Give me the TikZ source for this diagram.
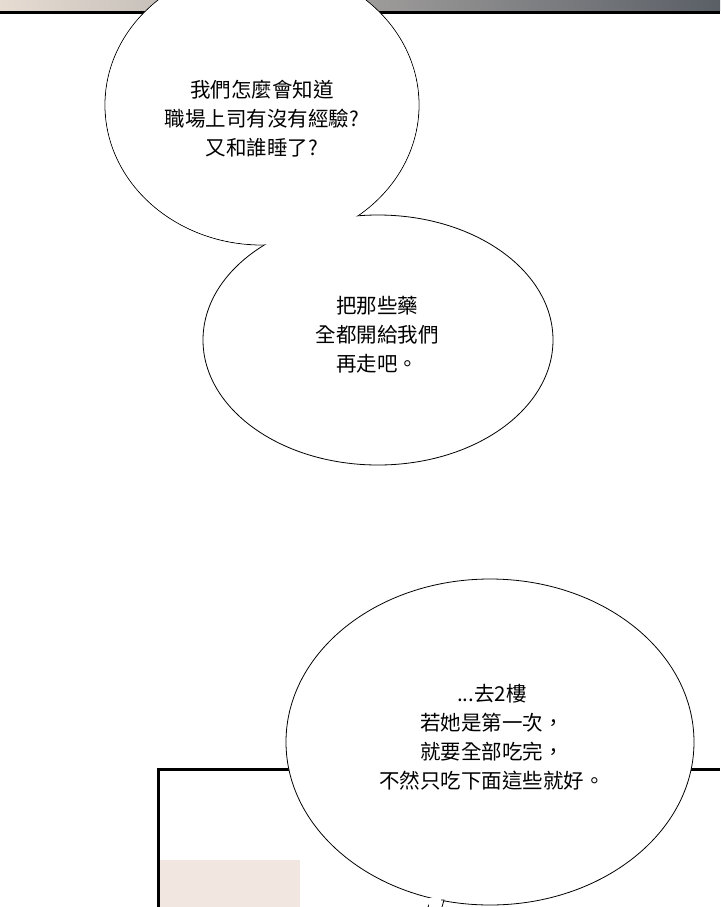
\documentclass[tikz,border=0pt]{standalone}
\usepackage{fontspec}
\newfontfamily\cjk{Noto Sans CJK TC}
\definecolor{stripA}{HTML}{E6DCD2}
\definecolor{stripB}{HTML}{5A5F66}
\definecolor{skin}{HTML}{F1E6E0}
\begin{document}
\begin{tikzpicture}[x=1pt,y=-1pt,
  speech/.style={font=\cjk\fontsize{20.5}{29}\selectfont, align=center, text=black}]
\useasboundingbox (0,0) rectangle (720,907);
% top panel strip
\fill[left color=stripA, right color=stripB] (0,0) rectangle (720,11);
\fill[black] (0,11) rectangle (720,14);
% lower panel
\fill[skin] (159,860) rectangle (300,907);
\draw[black, line width=3pt] (158,907) -- (158,769) -- (720,769);
% first bubble pair
\draw[line width=0.8pt, fill=white] (262,105) ellipse [x radius=157, y radius=140];
\draw[line width=0.8pt, fill=white] (378,340) ellipse [x radius=175, y radius=125];
\fill[white] (262,105) ellipse [x radius=156.4, y radius=139.4];
% bottom bubble
\draw[line width=0.8pt, fill=white] (490,742) ellipse [x radius=204, y radius=163];
\draw[line width=0.8pt, fill=white] (428,907) -- (431,900) -- (444,900) -- (442,907);
\fill[white] (429,898) rectangle (441,907);
% texts
\node[speech] (t1) at (262,119) {我們怎麼會知道\\職場上司有沒有經驗?\\又和誰睡了?};
\node[speech] (t2) at (377,335) {把那些藥\\全都開給我們\\再走吧。};
\node[speech] (t3) at (492,737) {...去2樓\\若她是第一次，\\就要全部吃完，\\不然只吃下面這些就好。};
\end{tikzpicture}
\end{document}
